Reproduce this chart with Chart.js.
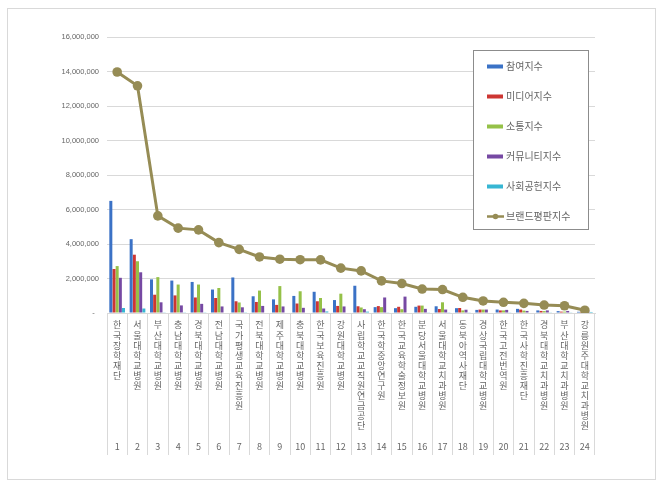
<!DOCTYPE html>
<html lang="ko">
<head>
<meta charset="utf-8">
<title>브랜드평판지수</title>
<script src="https://cdn.jsdelivr.net/npm/chart.js@4.4.1/dist/chart.umd.min.js"></script>
<style>
  html, body { margin: 0; padding: 0; background: #fff; }
  #wrap { position: relative; width: 660px; height: 487px; }
  #frame { position: absolute; left: 7px; top: 8px; width: 647px; height: 470px; border: 1px solid #d9d9d9; }
  #chart { position: absolute; left: 0; top: 0; }
</style>
</head>
<body>
<div id="wrap">
  <div id="frame"></div>
  <canvas id="chart" width="660" height="487"></canvas>
</div>
<script>
// 카테고리와 지수 값
const categories = [
  '한국장학재단', '서울대학교병원', '부산대학교병원', '충남대학교병원', '경북대학교병원',
  '전남대학교병원', '국가평생교육진흥원', '전북대학교병원', '제주대학교병원', '충북대학교병원',
  '한국보육진흥원', '강원대학교병원', '사립학교교직원연금공단', '한국학중앙연구원', '한국교육학술정보원',
  '분당서울대학교병원', '서울대학교치과병원', '동북아역사재단', '경상국립대학교병원', '한국고전번역원',
  '한국사학진흥재단', '경북대학교치과병원', '부산대학교치과병원', '강릉원주대학교치과병원'
];

const participation = [6500000, 4280000, 1950000, 1880000, 1800000, 1360000, 2060000, 970000, 790000, 990000, 1230000, 750000, 1580000, 340000, 280000, 360000, 390000, 280000, 180000, 200000, 240000, 150000, 110000, 70000];
const media = [2550000, 3380000, 1060000, 1020000, 900000, 870000, 680000, 640000, 470000, 550000, 680000, 410000, 390000, 400000, 360000, 430000, 230000, 290000, 200000, 150000, 200000, 120000, 80000, 60000];
const communication = [2720000, 3000000, 2080000, 1650000, 1650000, 1450000, 610000, 1300000, 1560000, 1260000, 870000, 1120000, 320000, 340000, 220000, 430000, 620000, 150000, 200000, 150000, 140000, 110000, 80000, 50000];
const community = [2040000, 2360000, 620000, 440000, 530000, 380000, 330000, 410000, 380000, 300000, 260000, 380000, 220000, 900000, 950000, 240000, 200000, 190000, 200000, 180000, 120000, 150000, 120000, 80000];
const social = [290000, 260000, 40000, 40000, 40000, 30000, 40000, 30000, 30000, 30000, 90000, 30000, 80000, 20000, 30000, 20000, 40000, 20000, 30000, 20000, 30000, 20000, 20000, 60000];
const brand = [13970000, 13170000, 5630000, 4920000, 4820000, 4080000, 3690000, 3250000, 3120000, 3090000, 3080000, 2600000, 2440000, 1860000, 1710000, 1390000, 1360000, 910000, 700000, 620000, 560000, 460000, 420000, 160000];

const yMax = 16000000;
const yStep = 2000000;

const gray = '#d9d9d9';
const textGray = '#666666';
const krFont = "'Noto Sans CJK KR', 'Noto Sans', sans-serif";

// 범례 상자 (차트 안쪽 오른쪽 위)
const legendBox = {
  id: 'legendBox',
  afterDraw(chart) {
    const ctx = chart.ctx;
    const bx = 473.5, by = 50.5, bw = 115, bh = 179;
    ctx.save();
    ctx.fillStyle = '#fff';
    ctx.fillRect(bx, by, bw, bh);
    ctx.strokeStyle = '#8c8c8c';
    ctx.lineWidth = 1;
    ctx.strokeRect(bx, by, bw, bh);
    ctx.font = '10px ' + krFont;
    ctx.textBaseline = 'middle';
    chart.data.datasets.forEach((ds, i) => {
      const cy = 66.5 + i * 30;
      if (ds.type === 'line') {
        ctx.strokeStyle = ds.borderColor;
        ctx.lineWidth = 2.5;
        ctx.beginPath();
        ctx.moveTo(487, cy);
        ctx.lineTo(504, cy);
        ctx.stroke();
        ctx.fillStyle = ds.borderColor;
        ctx.beginPath();
        ctx.arc(495.5, cy, 2.8, 0, Math.PI * 2);
        ctx.fill();
      } else {
        ctx.fillStyle = ds.backgroundColor;
        ctx.fillRect(487, cy - 2, 16, 4);
      }
      ctx.fillStyle = textGray;
      ctx.fillText(ds.label, 506, cy);
    });
    ctx.restore();
  }
};

const bar = (label, data, color) => ({
  type: 'bar', label, data, backgroundColor: color, borderWidth: 0, order: 1,
  categoryPercentage: 0.78, barPercentage: 0.95
});

new Chart(document.getElementById('chart'), {
  data: {
    labels: categories,
    datasets: [
      bar('참여지수', participation, '#3b72c6'),
      bar('미디어지수', media, '#cd3633'),
      bar('소통지수', communication, '#95c148'),
      bar('커뮤니티지수', community, '#7649a3'),
      bar('사회공헌지수', social, '#37b6d3'),
      {
        type: 'line', label: '브랜드평판지수', data: brand, order: 0,
        borderColor: '#968c55', backgroundColor: '#968c55',
        borderWidth: 3, tension: 0,
        pointRadius: 4.8, pointBackgroundColor: '#968c55', pointBorderWidth: 0
      }
    ]
  },
  options: {
    responsive: false,
    animation: false,
    devicePixelRatio: 1,
    layout: { padding: { top: 37, right: 65, bottom: 0, left: 0 } },
    plugins: { legend: { display: false }, tooltip: { enabled: false } },
    scales: {
      x: {
        offset: true,
        grid: { display: true, offset: true, drawOnChartArea: false, drawTicks: true, tickLength: 142, color: gray },
        border: { display: true, color: gray },
        ticks: {
          autoSkip: false, maxRotation: 0, minRotation: 0,
          padding: -135,
          color: textGray,
          font: { family: krFont, size: 9, lineHeight: '10.1px' },
          callback: function (value, index) {
            const chars = Array.from(this.getLabelForValue(value));
            while (chars.length < 12) chars.push('');
            chars.push(String(index + 1));
            return chars;
          }
        },
        afterFit(scale) { scale.height = 174; }
      },
      y: {
        min: 0, max: yMax,
        grid: { color: gray, drawTicks: false },
        border: { display: false },
        ticks: {
          stepSize: yStep,
          padding: 8,
          color: textGray,
          font: { family: "'Liberation Sans', Arial, sans-serif", size: 7.5 },
          callback: (v) => v === 0 ? '-  ' : v.toLocaleString('en-US')
        },
        afterFit(scale) { scale.width = 107; }
      }
    }
  },
  plugins: [legendBox]
});
</script>
</body>
</html>
